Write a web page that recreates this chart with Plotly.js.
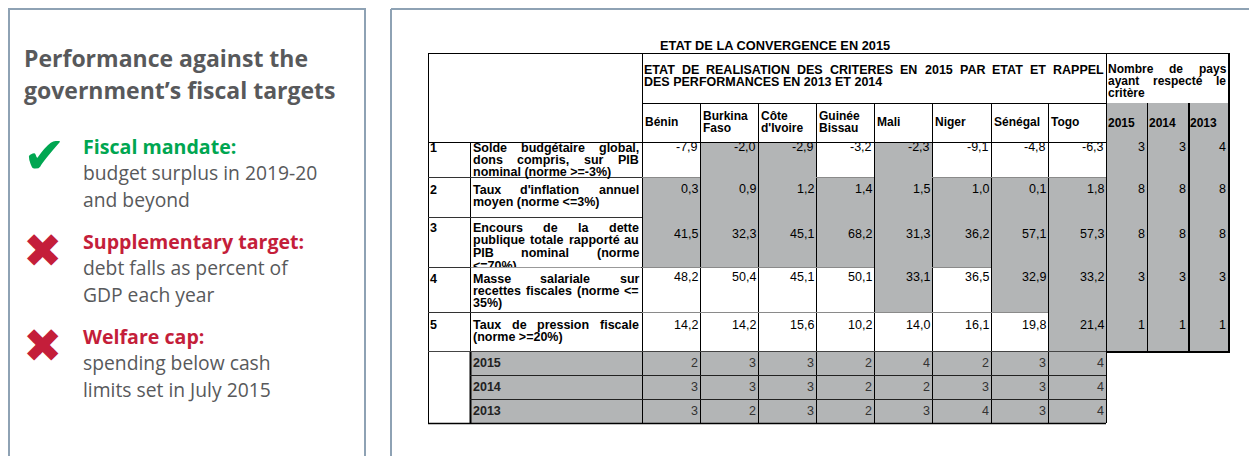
<!DOCTYPE html>
<html><head><meta charset="utf-8">
<script src="https://cdn.plot.ly/plotly-3.0.1.min.js"></script>
<style>html,body{margin:0;padding:0;background:#fff}</style>
</head><body><div id="chart" style="width:1249px;height:456px"></div>
<script>
// ================= DATA =================
const panelTitle = ['Performance against the', 'government\u2019s fiscal targets'];
const targetNames = ['Fiscal mandate:', 'Supplementary target:', 'Welfare cap:'];
const targetDescs = [
  ['budget surplus in 2019-20', 'and beyond'],
  ['debt falls as percent of', 'GDP each year'],
  ['spending below cash', 'limits set in July 2015']
];
const targetMet = [true, false, false];

const tableTitle = 'ETAT DE LA CONVERGENCE EN 2015';
const headerMain = ['ETAT DE REALISATION DES CRITERES EN 2015 PAR ETAT ET RAPPEL', 'DES PERFORMANCES EN 2013 ET 2014'];
const headerCount = ['Nombre de pays', 'ayant respect\u00e9 le', 'crit\u00e8re'];
const countries = [['B\u00e9nin'], ['Burkina', 'Faso'], ['C\u00f4te', "d'Ivoire"], ['Guin\u00e9e', 'Bissau'], ['Mali'], ['Niger'], ['S\u00e9n\u00e9gal'], ['Togo']];
const years = ['2015', '2014', '2013'];
const criteriaNum = ['1', '2', '3', '4', '5'];
const criteriaLabels = [
  ['Solde budg\u00e9taire global,', 'dons compris, sur PIB', 'nominal (norme >=-3%)'],
  ["Taux d'inflation annuel", 'moyen (norme <=3%)'],
  ['Encours de la dette', 'publique totale rapport\u00e9 au', 'PIB nominal (norme', '<=70%)'],
  ['Masse salariale sur', 'recettes fiscales (norme <=', '35%)'],
  ['Taux de pression fiscale', '(norme >=20%)']
];
const normThreshold = [-3, 3, 70, 35, 20];
const normDirection = ['>=', '<=', '<=', '<=', '>='];

const soldeBudgetaire = [-7.9, -2.0, -2.9, -3.2, -2.3, -9.1, -4.8, -6.3];
const tauxInflation   = [0.3, 0.9, 1.2, 1.4, 1.5, 1.0, 0.1, 1.8];
const encoursDette    = [41.5, 32.3, 45.1, 68.2, 31.3, 36.2, 57.1, 57.3];
const masseSalariale  = [48.2, 50.4, 45.1, 50.1, 33.1, 36.5, 32.9, 33.2];
const pressionFiscale = [14.2, 14.2, 15.6, 10.2, 14.0, 16.1, 19.8, 21.4];
const criteriaValues = [soldeBudgetaire, tauxInflation, encoursDette, masseSalariale, pressionFiscale];

const paysRespect2015 = [3, 8, 8, 3, 1];
const paysRespect2014 = [3, 8, 8, 3, 1];
const paysRespect2013 = [4, 8, 8, 3, 1];
const countsByYear = [paysRespect2015, paysRespect2014, paysRespect2013];

const criteresRespectes2015 = [2, 3, 3, 2, 4, 2, 3, 4];
const criteresRespectes2014 = [3, 3, 3, 2, 2, 3, 3, 4];
const criteresRespectes2013 = [3, 2, 3, 2, 3, 4, 3, 4];
const metByYear = [criteresRespectes2015, criteresRespectes2014, criteresRespectes2013];

// ================= LAYOUT / STYLE =================
const W = 1249, H = 456;
const TF = '"Liberation Sans", Arial, sans-serif';
const LF = '"Open Sans", Lato, sans-serif';
const FS = 12.5;
const GRAY = '#b3b5b6';
const PANEL = '#8ea2b4';
const TXTGRAY = '#58595b';
const GREEN = '#00a651';
const RED = '#c41e3a';

const colX = [428, 470, 642, 700, 758, 816, 874, 932, 991, 1048, 1106, 1147, 1188, 1228];
const tableTop = 53, hdrDiv = 103;
const rowY = [142, 177, 217, 267, 312, 351, 375, 399, 423];
const labelTopOff = [5.5, 13, 11, 11.5, 13];
const labelLH = [12, 12.2, 12.4, 12.2, 12.2];
const numOff = [4.5, 12, 17, 10, 13];

const shapes = [], ann = [];
function rect(x0, x1, y0, y1, fill, layer) {
  shapes.push({type: 'rect', xref: 'x', yref: 'y', x0, x1, y0, y1, fillcolor: fill, line: {width: 0}, layer: layer || 'below'});
}
function seg(x0, y0, x1, y1, color, w) {
  shapes.push({type: 'line', xref: 'x', yref: 'y', x0, y0, x1, y1, line: {color: color || '#000', width: w || 1}, layer: 'above'});
}
function txt(x, y, text, o) {
  o = o || {};
  ann.push({xref: 'x', yref: 'y', x, y, text, showarrow: false, xanchor: o.anchor || 'left', yanchor: 'middle',
    borderpad: 0, borderwidth: 0,
    font: {family: o.family || TF, size: o.size || FS, color: o.color || '#000', weight: o.bold ? 'bold' : 'normal'}});
}
const ctx = document.createElement('canvas').getContext('2d');
function measure(t, size, bold, fam) { ctx.font = (bold ? 'bold ' : '') + size + 'px ' + fam; return ctx.measureText(t).width; }
function justLine(line, x0, x1, y, justify, o) {
  const words = line.split(' ');
  if (!justify || words.length < 2) { txt(x0, y, line, o); return; }
  const sz = o.size || FS, fam = o.family || TF;
  const ws = words.map(w => measure(w, sz, o.bold, fam));
  const sum = ws.reduce((a, b) => a + b, 0);
  let gap = (x1 - x0 - sum) / (words.length - 1);
  const minGap = measure(' ', sz, o.bold, fam) * 0.6;
  if (gap < minGap) gap = minGap;
  let x = x0;
  words.forEach((w, i) => { txt(x, y, w, o); x += ws[i] + gap; });
}
const fmt = v => v.toFixed(1).replace('.', ',');

// ---------- left panel ----------
shapes.push({type: 'rect', xref: 'x', yref: 'y', x0: 9, x1: 365, y0: 9, y1: H + 20, fillcolor: 'rgba(0,0,0,0)', line: {color: PANEL, width: 2}, layer: 'above'});
panelTitle.forEach((t, i) => txt(24, 58 + i * 31.5, t, {family: LF, size: 23, bold: true, color: TXTGRAY}));
targetNames.forEach((name, k) => {
  const y0 = 146 + k * 95;
  txt(83, y0, name, {family: LF, size: 19.6, bold: true, color: targetMet[k] ? GREEN : RED});
  targetDescs[k].forEach((d, j) => txt(83, y0 + 26.5 * (j + 1), d, {family: LF, size: 19.3, color: TXTGRAY}));
  if (targetMet[k]) txt(44, y0 + 9, '\u2714', {family: '"DejaVu Sans"', size: 51, color: GREEN, anchor: 'center'});
  else txt(42.5, y0 + 9.5, '\u2716', {family: '"DejaVu Sans"', size: 47, color: RED, anchor: 'center'});
});

// ---------- right panel frame ----------
seg(391, H + 10, 391, 9, PANEL, 2);
seg(391, 9, W + 10, 9, PANEL, 2);

// ---------- table fills ----------
const nC = countries.length;
const meets = (i, v) => normDirection[i] === '>=' ? v >= normThreshold[i] : v <= normThreshold[i];
criteriaValues.forEach((vals, i) => {
  vals.forEach((v, j) => { if (meets(i, v)) rect(colX[j + 2], colX[j + 3], rowY[i], rowY[i + 1], GRAY); });
  countsByYear.forEach((arr, y) => rect(colX[nC + 2 + y], colX[nC + 3 + y], rowY[i], rowY[i + 1], GRAY));
});
years.forEach((yr, y) => rect(colX[nC + 2 + y], colX[nC + 3 + y], hdrDiv, rowY[0], GRAY));
metByYear.forEach((arr, y) => rect(colX[1], colX[nC + 2], rowY[5 + y], rowY[6 + y], GRAY));

// ---------- table texts ----------
txt(660, 45, tableTitle, {bold: true, size: 12.8});
headerMain.forEach((l, i) => justLine(l, colX[2] + 2, colX[nC + 2] - 2, 70 + i * 11.5, i < headerMain.length - 1, {bold: true}));
headerCount.forEach((l, i) => justLine(l, colX[nC + 2] + 2, colX[nC + 5] - 2, 69 + i * 12, i < headerCount.length - 1, {bold: true, size: 12}));
countries.forEach((c, j) => {
  const cy = 122 - (c.length - 1) * 5.8;
  c.forEach((l, k) => txt(colX[j + 2] + 3, cy + k * 11.8, l, {bold: true, size: 12}));
});
years.forEach((yr, y) => txt(colX[nC + 2 + y] + 2, 123, yr, {bold: true, size: 12}));

let clipped = null;
criteriaLabels.forEach((lines, i) => {
  const y0 = rowY[i] + labelTopOff[i];
  txt(colX[0] + 2, y0, criteriaNum[i], {bold: true});
  lines.forEach((l, k) => {
    const y = y0 + k * labelLH[i];
    if (y + 3 > rowY[i + 1]) { clipped = {text: l, y: rowY[i + 1]}; return; }
    justLine(l, colX[1] + 3, colX[2] - 3, y, k < lines.length - 1, {bold: true});
  });
  criteriaValues[i].forEach((v, j) => txt(colX[j + 3] - 2, rowY[i] + numOff[i], fmt(v), {anchor: 'right'}));
  countsByYear.forEach((arr, y) => txt(colX[nC + 3 + y] - 2, rowY[i] + numOff[i], String(arr[i]), {anchor: 'right'}));
});
years.forEach((yr, y) => {
  const cy = (rowY[5 + y] + rowY[6 + y]) / 2;
  txt(colX[1] + 3, cy, yr, {bold: true, color: '#222'});
  metByYear[y].forEach((v, j) => txt(colX[j + 3] - 2, cy, String(v), {anchor: 'right', color: '#333'}));
});

// ---------- table lines ----------
const half = v => Math.round(v) + 0.5;
seg(half(colX[0]), tableTop, half(colX[0]), rowY[8]);
seg(half(colX[1]), rowY[0], half(colX[1]), rowY[5]);
seg(half(colX[1]), rowY[5], half(colX[1]), rowY[8], '#000', 2);
seg(half(colX[2]), tableTop, half(colX[2]), rowY[8]);
for (let j = 3; j < nC + 2; j++) seg(half(colX[j]), hdrDiv, half(colX[j]), rowY[8]);
seg(half(colX[nC + 2]), tableTop, half(colX[nC + 2]), rowY[8]);
seg(half(colX[nC + 3]), hdrDiv, half(colX[nC + 3]), rowY[5]);
seg(colX[nC + 4] + 1, hdrDiv, colX[nC + 4] + 1, rowY[5], '#000', 2);
seg(colX[nC + 5] + 1, tableTop, colX[nC + 5] + 1, rowY[5] + 1, '#000', 2);
seg(colX[0], half(tableTop), colX[nC + 5] + 2, half(tableTop));
seg(colX[2], half(hdrDiv), colX[nC + 2], half(hdrDiv));
seg(colX[0], half(rowY[0]), colX[nC + 2], half(rowY[0]));
for (let i = 1; i < 5; i++) {
  seg(colX[0], half(rowY[i]), colX[2], half(rowY[i]), '#333');
  for (let j = 0; j < nC; j++) {
    if (!(meets(i - 1, criteriaValues[i - 1][j]) && meets(i, criteriaValues[i][j])))
      seg(colX[j + 2], half(rowY[i]), colX[j + 3], half(rowY[i]), '#8a8a8a');
  }
}
seg(colX[0], half(rowY[5]), colX[nC + 2], half(rowY[5]), '#444');
seg(colX[nC + 2], rowY[5] + 1, colX[nC + 5] + 2, rowY[5] + 1, '#000', 2);
seg(colX[1], half(rowY[6]), colX[nC + 2], half(rowY[6]), '#222');
seg(colX[1], half(rowY[7]), colX[nC + 2], half(rowY[7]), '#222');
seg(colX[0], half(rowY[8]), colX[nC + 2], half(rowY[8]), '#000', 1.5);

// clipped label line (overflows its cell, cut at the row border)
const traces = [{type: 'scatter', mode: 'text', x: [0], y: [0], text: [''], hoverinfo: 'skip', showlegend: false}];
if (clipped) {
  traces.push({type: 'scatter', mode: 'text', x: [colX[1] + 3], y: [clipped.y], text: [clipped.text], textposition: 'middle right',
    textfont: {family: TF, size: FS, color: '#000', weight: 'bold'}, hoverinfo: 'skip', showlegend: false, cliponaxis: false});
  rect(colX[1] + 1, colX[2] - 1, rowY[3] + 0.5, rowY[3] + 7, '#ffffff', 'above');
}

Plotly.newPlot('chart', traces, {
  width: W, height: H, margin: {l: 0, r: 0, t: 0, b: 0},
  paper_bgcolor: '#fff', plot_bgcolor: '#fff', showlegend: false,
  xaxis: {range: [0, W], visible: false, fixedrange: true},
  yaxis: {range: [H, 0], visible: false, fixedrange: true},
  shapes, annotations: ann
}, {staticPlot: true, displayModeBar: false});
</script></body></html>
